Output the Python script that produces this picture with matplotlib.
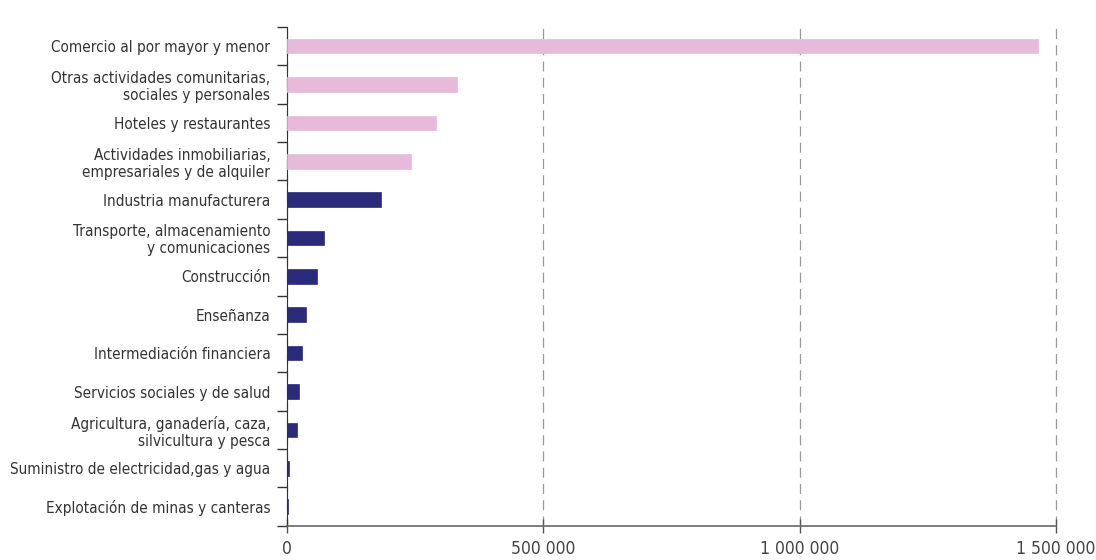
import matplotlib.pyplot as plt
from matplotlib.ticker import FixedLocator, FuncFormatter
import numpy as np

plt.rcParams['font.family'] = ['DejaVu Sans']
plt.rcParams['font.stretch'] = 'condensed'

# ramas de actividad (de arriba hacia abajo)
sectores = [
    'Comercio al por mayor y menor',
    'Otras actividades comunitarias,\nsociales y personales',
    'Hoteles y restaurantes',
    'Actividades inmobiliarias,\nempresariales y de alquiler',
    'Industria manufacturera',
    'Transporte, almacenamiento\ny comunicaciones',
    'Construcción',
    'Enseñanza',
    'Intermediación financiera',
    'Servicios sociales y de salud',
    'Agricultura, ganadería, caza,\nsilvicultura y pesca',
    'Suministro de electricidad,gas y agua',
    'Explotación de minas y canteras',
]
valores = [1465000, 332000, 291000, 242000, 183000, 72000, 58000,
           37000, 28000, 23000, 18500, 3000, 2500]
grupo = ['a', 'a', 'a', 'a', 'b', 'b', 'b', 'b', 'b', 'b', 'b', 'b', 'b']

colores = {'a': '#E7BADA', 'b': '#2A2B7A'}

fig = plt.figure(figsize=(10.96, 5.6), dpi=100)
ax = fig.add_axes([0.262, 0.061, 0.7015, 0.891])

y = np.arange(len(sectores))
ax.barh(y, valores, height=0.38, color=[colores[g] for g in grupo],
        edgecolor=[colores[g] for g in grupo], linewidth=0.5, zorder=3)

ax.set_ylim(len(sectores) - 0.5, -0.5)
ax.set_xlim(0, 1500000)

ax.set_yticks(y)
ax.set_yticklabels(sectores, fontsize=11, color='#333333', linespacing=1.15)
ax.yaxis.set_minor_locator(FixedLocator(np.arange(-0.5, len(sectores), 1.0)))
ax.tick_params(axis='y', which='major', length=0, pad=12)
ax.tick_params(axis='y', which='minor', length=7, width=1, color='#333333')

ax.set_xticks([0, 500000, 1000000, 1500000])
ax.xaxis.set_major_formatter(FuncFormatter(lambda v, p: f'{int(v):,}'.replace(',', ' ')))
ax.tick_params(axis='x', direction='inout', length=10, width=1, color='#555555',
               labelsize=12.5, labelcolor='#444444', pad=5)

ax.grid(axis='x', linestyle=(0, (8, 5)), color='#999999', linewidth=0.9, zorder=0)
for gl in ax.get_xgridlines():
    gl.set_clip_on(False)

for s in ['top', 'right']:
    ax.spines[s].set_visible(False)
ax.spines['left'].set_color('#333333')
ax.spines['bottom'].set_color('#666666')
ax.spines['bottom'].set_linewidth(1.2)

plt.savefig('out.png', dpi=100)
